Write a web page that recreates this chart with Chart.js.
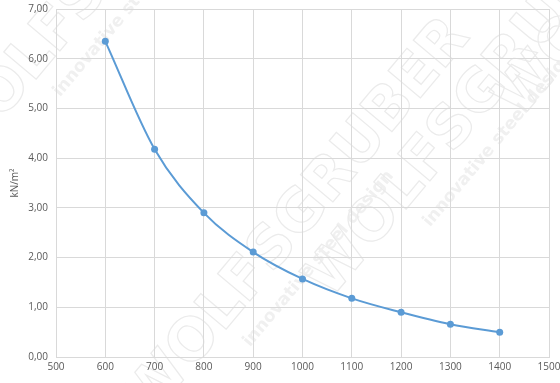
<!DOCTYPE html>
<html lang="de">
<head>
    <meta charset="UTF-8">
    <title>kN/m²</title>
    <script src="https://cdn.jsdelivr.net/npm/chart.js"></script>
    <style>
        html, body { margin: 0; padding: 0; background: #fff; }
        #wrap { width: 560px; height: 383px; }
    </style>
</head>
<body>
    <div id="wrap"><canvas id="loadChart"></canvas></div>

    <script>
        // Werte
        const spans = [600, 700, 800, 900, 1000, 1100, 1200, 1300, 1400];
        const loads = [6.35, 4.18, 2.90, 2.11, 1.57, 1.18, 0.90, 0.66, 0.50];
        const xTicks = [500, 600, 700, 800, 900, 1000, 1100, 1200, 1300, 1400, 1500];
        const yTicks = [0, 1, 2, 3, 4, 5, 6, 7];
        const yTitle = "kN/m²";

        const points = spans.map((s, i) => ({ x: s, y: loads[i] }));

        // faint watermark behind the grid
        const watermark = {
            id: "watermark",
            beforeDraw(chart) {
                const ctx = chart.ctx;
                ctx.save();
                ctx.strokeStyle = "#ebebeb";
                ctx.fillStyle = "#f0f0f0";
                ctx.lineWidth = 1.2;
                const spots = [[-40, 170], [150, 420], [330, 300], [520, 120]];
                spots.forEach(([x, y]) => {
                    ctx.save();
                    ctx.translate(x, y);
                    ctx.rotate(-50 * Math.PI / 180);
                    ctx.font = "bold 58px 'DejaVu Sans'";
                    ctx.strokeText("WOLFSGRUBER", 0, 0);
                    ctx.font = "bold 17px 'DejaVu Sans'";
                    ctx.fillText("innovative steel design", 120, 30);
                    ctx.restore();
                });
                ctx.restore();
            }
        };

        new Chart(document.getElementById("loadChart").getContext("2d"), {
            type: "line",
            data: {
                datasets: [{
                    data: points,
                    borderColor: "#5B9BD5",
                    backgroundColor: "#5B9BD5",
                    borderWidth: 2,
                    pointRadius: 3.5,
                    pointBorderWidth: 0,
                    cubicInterpolationMode: "monotone",
                    fill: false
                }]
            },
            options: {
                responsive: true,
                maintainAspectRatio: false,
                animation: false,
                layout: { padding: { top: 9, right: 11, left: 0, bottom: 0 } },
                plugins: {
                    legend: { display: false },
                    tooltip: { enabled: false }
                },
                scales: {
                    x: {
                        type: "linear",
                        min: 500,
                        max: 1500,
                        afterBuildTicks: axis => { axis.ticks = xTicks.map(v => ({ value: v })); },
                        afterFit: axis => {
                            axis.height = 26;
                            axis.paddingRight = 0;
                            axis.paddingLeft = 0;
                        },
                        grid: { color: "#d9d9d9", drawTicks: false },
                        border: { color: "#d9d9d9" },
                        ticks: {
                            padding: 4,
                            color: "#595959",
                            font: { family: "'Open Sans'", size: 10 },
                            maxRotation: 0,
                            callback: v => String(v)
                        }
                    },
                    y: {
                        min: 0,
                        max: 7,
                        afterBuildTicks: axis => { axis.ticks = yTicks.map(v => ({ value: v })); },
                        afterFit: axis => {
                            axis.width = 56;
                            axis.paddingTop = 0;
                            axis.paddingBottom = 0;
                        },
                        grid: { color: "#d9d9d9", drawTicks: false },
                        border: { color: "#d9d9d9" },
                        title: {
                            display: true,
                            text: yTitle,
                            color: "#595959",
                            font: { family: "'Open Sans'", size: 10 },
                            padding: { top: 9, bottom: 0 }
                        },
                        ticks: {
                            padding: 8,
                            color: "#595959",
                            font: { family: "'Open Sans'", size: 10 },
                            callback: v => v.toFixed(2).replace(".", ",")
                        }
                    }
                }
            },
            plugins: [watermark]
        });
    </script>
</body>
</html>
